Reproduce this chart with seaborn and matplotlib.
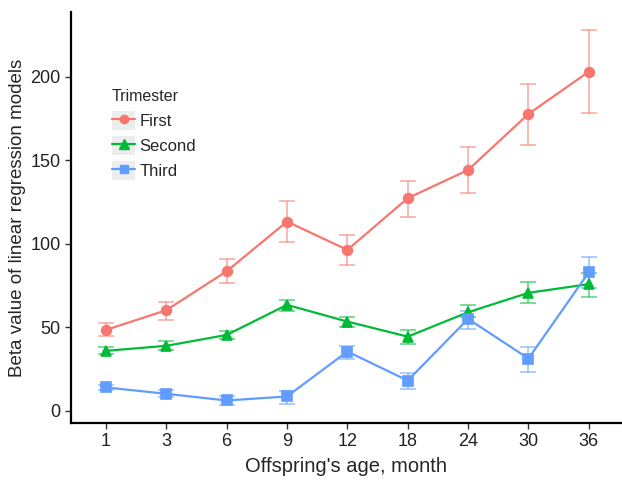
import numpy as np
import pandas as pd
import matplotlib
matplotlib.use('Agg')
import matplotlib.pyplot as plt
import seaborn as sns
from matplotlib.patches import Patch
from matplotlib.lines import Line2D
from matplotlib.legend_handler import HandlerTuple

# Data
ages = ['1', '3', '6', '9', '12', '18', '24', '30', '36']
trimesters = ['First', 'Second', 'Third']
first_beta = [48.4, 60.2, 83.5, 113.2, 96.3, 127.2, 144.1, 177.6, 202.9]
first_lo = [45.0, 54.4, 76.5, 101.2, 87.3, 116.2, 130.5, 159.2, 178.0]
first_hi = [52.4, 65.4, 90.7, 125.6, 105.2, 137.5, 158.0, 195.7, 227.6]
second_beta = [35.9, 38.9, 45.4, 63.4, 53.4, 44.4, 59.0, 70.6, 75.8]
second_lo = [34.0, 36.5, 43.0, 59.8, 50.0, 40.0, 56.0, 64.4, 68.0]
second_hi = [38.0, 41.5, 48.0, 66.4, 56.2, 48.4, 63.5, 76.9, 82.3]
third_beta = [14.0, 10.2, 6.2, 8.6, 35.5, 18.1, 55.0, 31.3, 82.9]
third_lo = [12.5, 8.2, 3.6, 4.0, 31.0, 13.0, 48.8, 23.1, 73.5]
third_hi = [15.5, 12.2, 9.0, 11.6, 38.9, 22.9, 60.0, 38.4, 92.3]

colors = {'First': '#F8766D', 'Second': '#00BA38', 'Third': '#619CFF'}
markers = {'First': 'o', 'Second': '^', 'Third': 's'}
msize = {'First': 6, 'Second': 7, 'Third': 6}

series = {
    'First': (first_beta, first_lo, first_hi),
    'Second': (second_beta, second_lo, second_hi),
    'Third': (third_beta, third_lo, third_hi),
}

rows = []
for t, (b, lo, hi) in series.items():
    for a, v in zip(ages, b):
        rows.append({'age': a, 'beta': v, 'trimester': t})
df = pd.DataFrame(rows)

sns.set_style('white')
plt.rcParams['font.family'] = ['Liberation Sans', 'DejaVu Sans']

fig = plt.figure(figsize=(6.22, 4.8), dpi=100)
ax = fig.add_axes([0.114, 0.119, 0.886, 0.856])

# error bars first, so lines sit on top
for i, t in enumerate(trimesters):
    b, lo, hi = series[t]
    b = np.array(b); lo = np.array(lo); hi = np.array(hi)
    ax.errorbar(np.arange(len(ages)), b, yerr=[b - lo, hi - b], fmt='none',
                ecolor=colors[t], alpha=0.6, elinewidth=1.2, capsize=6, capthick=1.2,
                zorder=1)

sns.pointplot(data=df, x='age', y='beta', hue='trimester', order=ages,
              hue_order=trimesters, palette=colors, markers=['o', '^', 's'],
              linestyles='-', ax=ax, legend=False, linewidth=1.6,
              markersize=7)

ax.set_xlim(-0.58, 8.55)
ax.set_ylim(-7.2, 238.6)
ax.set_yticks([0, 50, 100, 150, 200])
ax.set_xlabel("Offspring's age, month", fontsize=14.5, labelpad=5)
ax.set_ylabel('Beta value of linear regression models', fontsize=13.5, labelpad=3)
ax.tick_params(axis='both', which='major', labelsize=13, length=4, width=1,
               direction='out', colors='#333333', labelcolor='#222222',
               bottom=True, left=True)
for s in ['top', 'right']:
    ax.spines[s].set_visible(False)
for s in ['left', 'bottom']:
    ax.spines[s].set_linewidth(1.6)
    ax.spines[s].set_color('black')

handles = []
for t in trimesters:
    handles.append((Patch(facecolor='#EDEDED', edgecolor='none'),
                    Line2D([], [], color=colors[t], marker=markers[t],
                           markersize=msize[t], linewidth=1.6)))
leg = ax.legend(handles, trimesters, title='Trimester', loc='upper left',
                bbox_to_anchor=(112 / 622, 1 - 89 / 480),
                bbox_transform=fig.transFigure, borderaxespad=0, borderpad=0,
                frameon=False, fontsize=12, title_fontsize=11.5,
                handlelength=1.4, handleheight=1.4, handletextpad=0.25,
                labelspacing=0.35, alignment='left',
                handler_map={tuple: HandlerTuple(ndivide=1, pad=0)})
leg._legend_box.sep = 5

fig.savefig('out.png', dpi=100)
